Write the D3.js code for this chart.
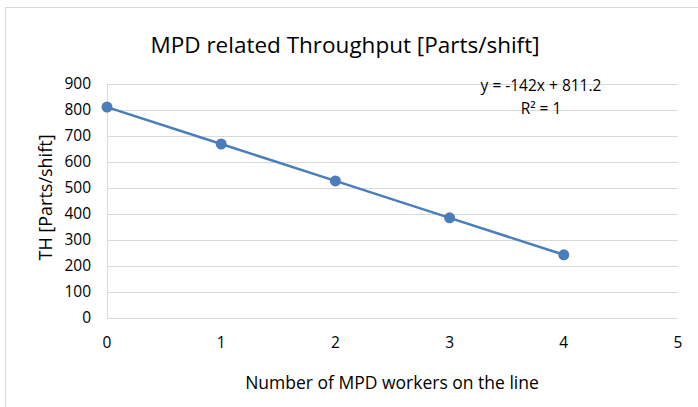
<!DOCTYPE html>
<html>
<head>
<meta charset="utf-8">
<script src="https://cdn.jsdelivr.net/npm/d3@7"></script>
<style>
  body { margin: 0; background: #fff; }
  text { font-family: "Open Sans", "Liberation Sans", sans-serif; fill: #000; }
</style>
</head>
<body>
<svg id="chart" width="698" height="407"></svg>
<script>
// data
var workers = [0, 1, 2, 3, 4];
var throughput = [811.2, 669.2, 527.2, 385.2, 243.2];
var xTicks = [0, 1, 2, 3, 4, 5];
var yTicks = [0, 100, 200, 300, 400, 500, 600, 700, 800, 900];
var trendText = ['y = -142x + 811.2', 'R\u00b2 = 1'];

var svg = d3.select('#chart');

// outer chart border (only top and left show in the crop)
svg.append('rect')
    .attr('x', 5.5).attr('y', 7.5)
    .attr('width', 720).attr('height', 420)
    .attr('fill', '#fff')
    .attr('stroke', '#d9d9d9');

var x = d3.scaleLinear().domain([0, 5]).range([107, 678]);
var y = d3.scaleLinear().domain([0, 900]).range([318, 84]);

// gridlines
svg.append('g').selectAll('line')
    .data(yTicks)
  .enter().append('line')
    .attr('x1', x(0)).attr('x2', x(5))
    .attr('y1', function(d) { return Math.round(y(d)) + 0.5; })
    .attr('y2', function(d) { return Math.round(y(d)) + 0.5; })
    .attr('stroke', '#d9d9d9')
    .attr('stroke-width', 1);

// y axis line
svg.append('line')
    .attr('x1', x(0) + 0.5).attr('x2', x(0) + 0.5)
    .attr('y1', y(900)).attr('y2', y(0))
    .attr('stroke', '#d9d9d9');

// y tick labels
svg.append('g').selectAll('text')
    .data(yTicks)
  .enter().append('text')
    .attr('x', 91)
    .attr('y', function(d) { return y(d); })
    .attr('dy', '0.35em')
    .attr('text-anchor', 'end')
    .attr('font-size', 15.5)
    .text(function(d) { return d; });

// x tick labels
svg.append('g').selectAll('text')
    .data(xTicks)
  .enter().append('text')
    .attr('x', function(d) { return x(d); })
    .attr('y', 343)
    .attr('dy', '0.35em')
    .attr('text-anchor', 'middle')
    .attr('font-size', 15.5)
    .text(function(d) { return d; });

// line through the points
var line = d3.line()
    .x(function(d, i) { return x(workers[i]); })
    .y(function(d) { return y(d); });

svg.append('path')
    .datum(throughput)
    .attr('d', line)
    .attr('fill', 'none')
    .attr('stroke', '#4a7ebb')
    .attr('stroke-width', 2.5);

svg.append('g').selectAll('circle')
    .data(throughput)
  .enter().append('circle')
    .attr('cx', function(d, i) { return x(workers[i]); })
    .attr('cy', function(d) { return y(d); })
    .attr('r', 5.5)
    .attr('fill', '#4a7ebb');

// trendline label
svg.append('g').selectAll('text')
    .data(trendText)
  .enter().append('text')
    .attr('x', 541)
    .attr('y', function(d, i) { return 85.5 + i * 23; })
    .attr('dy', '0.35em')
    .attr('text-anchor', 'middle')
    .attr('font-size', 15.5)
    .text(function(d) { return d; });

// titles
svg.append('text')
    .attr('x', 345).attr('y', 45)
    .attr('dy', '0.35em')
    .attr('text-anchor', 'middle')
    .attr('font-size', 22.5)
    .text('MPD related Throughput [Parts/shift]');

svg.append('text')
    .attr('x', 392).attr('y', 383)
    .attr('dy', '0.35em')
    .attr('text-anchor', 'middle')
    .attr('font-size', 17.5)
    .text('Number of MPD workers on the line');

svg.append('text')
    .attr('transform', 'translate(46,197.5) rotate(-90)')
    .attr('dy', '0.35em')
    .attr('text-anchor', 'middle')
    .attr('font-size', 18)
    .text('TH [Parts/shift]');
</script>
</body>
</html>
